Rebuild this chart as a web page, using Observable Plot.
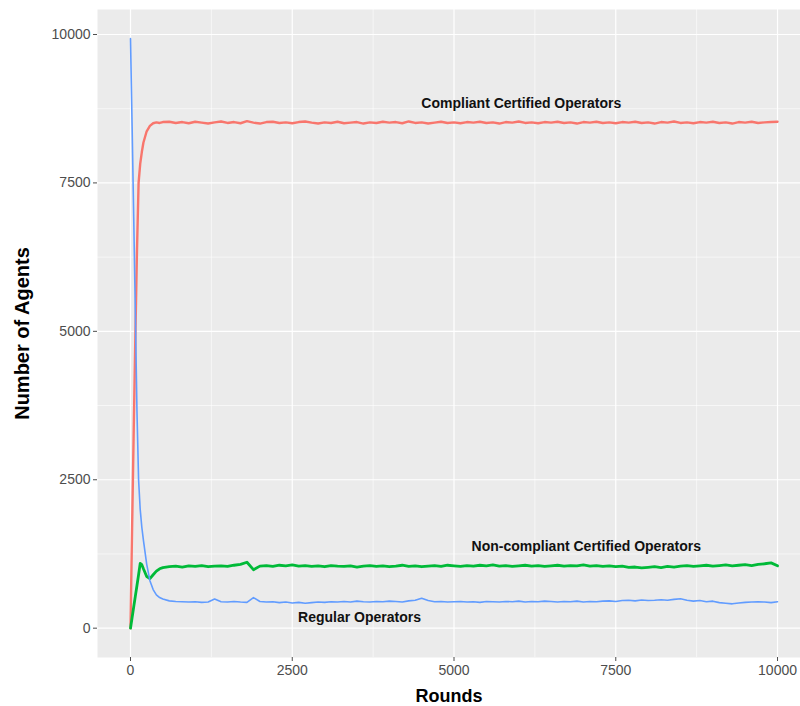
<!DOCTYPE html>
<html>
<head>
<meta charset="utf-8">
<script src="https://cdn.jsdelivr.net/npm/d3@7"></script>
<script src="https://cdn.jsdelivr.net/npm/@observablehq/plot@0.6"></script>
<style>
  html, body { margin: 0; padding: 0; background: #ffffff; }
  #chart svg { display: block; }
</style>
</head>
<body>
<div id="chart"></div>
<script>
// ---- data ----
const rounds = [
  0, 25, 50, 75, 100, 125, 150, 175, 200, 250, 300, 350, 400, 450, 500,
  600, 700, 800, 900, 1000, 1100, 1200, 1300, 1400, 1500,
  1600, 1700, 1800, 1900, 2000, 2100, 2200, 2300, 2400, 2500,
  2600, 2700, 2800, 2900, 3000, 3100, 3200, 3300, 3400, 3500,
  3600, 3700, 3800, 3900, 4000, 4100, 4200, 4300, 4400, 4500,
  4600, 4700, 4800, 4900, 5000, 5100, 5200, 5300, 5400, 5500,
  5600, 5700, 5800, 5900, 6000, 6100, 6200, 6300, 6400, 6500,
  6600, 6700, 6800, 6900, 7000, 7100, 7200, 7300, 7400, 7500,
  7600, 7700, 7800, 7900, 8000, 8100, 8200, 8300, 8400, 8500,
  8600, 8700, 8800, 8900, 9000, 9100, 9200, 9300, 9400, 9500,
  9600, 9700, 9800, 9900, 10000
];

const compliant = [
  0, 1700, 3350, 4900, 6350, 7500, 7820, 8020, 8180, 8370, 8460, 8505, 8520, 8510, 8525,
  8530, 8510, 8525, 8505, 8530, 8515, 8500, 8520, 8535, 8510,
  8525, 8505, 8540, 8515, 8500, 8525, 8530, 8510, 8520, 8505,
  8525, 8535, 8515, 8500, 8520, 8510, 8530, 8505, 8515, 8525,
  8500, 8520, 8510, 8530, 8515, 8525, 8505, 8535, 8510, 8520,
  8500, 8515, 8530, 8510, 8520, 8505, 8525, 8515, 8530, 8510,
  8520, 8500, 8525, 8515, 8535, 8510, 8520, 8505, 8525, 8515,
  8530, 8510, 8520, 8500, 8525, 8515, 8530, 8510, 8520, 8505,
  8525, 8515, 8530, 8510, 8520, 8500, 8525, 8515, 8535, 8510,
  8520, 8505, 8525, 8515, 8530, 8510, 8520, 8500, 8525, 8515,
  8530, 8510, 8520, 8525, 8530
];

const nonCompliant = [
  0, 180, 360, 540, 720, 900, 1090, 1070, 1000, 870, 835, 900, 960, 1000, 1020,
  1035, 1045, 1030, 1050, 1040, 1055, 1035, 1045, 1050, 1040,
  1060, 1075, 1110, 985, 1045, 1055, 1040, 1060, 1050, 1065,
  1045, 1055, 1040, 1050, 1035, 1055, 1045, 1040, 1050, 1030,
  1045, 1055, 1040, 1050, 1035, 1045, 1060, 1040, 1050, 1035,
  1045, 1055, 1040, 1060, 1050, 1040, 1055, 1045, 1060, 1050,
  1065, 1045, 1055, 1040, 1050, 1060, 1045, 1055, 1040, 1050,
  1060, 1045, 1055, 1050, 1065, 1045, 1055, 1040, 1050, 1035,
  1045, 1025, 1030, 1015, 1025, 1035, 1020, 1040, 1030, 1045,
  1055, 1040, 1050, 1060, 1045, 1055, 1065, 1050, 1060, 1070,
  1055, 1075, 1085, 1100, 1050
];

const regular = [
  9930, 8450, 6900, 5300, 3650, 2500, 2000, 1700, 1480, 1080, 800, 650, 560, 515, 490,
  460, 450, 445, 440, 445, 435, 440, 490, 445, 440,
  450, 440, 435, 515, 450, 440, 445, 430, 440, 425,
  435, 420, 430, 440, 435, 445, 440, 450, 440, 455,
  445, 440, 450, 445, 455, 450, 440, 460, 470, 505,
  465, 445, 450, 440, 445, 450, 440, 445, 435, 450,
  445, 440, 450, 445, 455, 440, 450, 445, 455, 450,
  440, 450, 445, 455, 440, 450, 445, 455, 460, 450,
  465, 470, 460, 475, 465, 470, 480, 470, 485, 495,
  470, 455, 465, 445, 455, 430, 420, 410, 425, 435,
  440, 445, 440, 430, 445
];

const seriesNames = ["Compliant Certified Operators", "Non-compliant Certified Operators", "Regular Operators"];
const labelRounds = [6040, 7045, 3540];
const labelValues = [8840, 1380, 180];

const xTicks = [0, 2500, 5000, 7500, 10000];
const yTicks = [0, 2500, 5000, 7500, 10000];
const xMinor = [1250, 3750, 6250, 8750];
const yMinor = [1250, 3750, 6250, 8750];

// ---- build tables ----
const toRows = (vals) => rounds.map((r, i) => ({ round: r, value: vals[i] }));
const labels = seriesNames.map((s, i) => ({ name: s, round: labelRounds[i], value: labelValues[i] }));

const chart = Plot.plot({
  width: 800,
  height: 706,
  marginLeft: 97,
  marginRight: 0,
  marginTop: 9,
  marginBottom: 49,
  style: { fontFamily: "'Liberation Sans', Arial, Helvetica, sans-serif", background: "#ffffff" },
  x: { domain: [-510, 10355] },
  y: { domain: [-494, 10421] },
  marks: [
    Plot.frame({ fill: "#EBEBEB", stroke: null }),
    Plot.gridX(xMinor, { stroke: "#ffffff", strokeOpacity: 1, strokeWidth: 0.6 }),
    Plot.gridY(yMinor, { stroke: "#ffffff", strokeOpacity: 1, strokeWidth: 0.6 }),
    Plot.gridX(xTicks, { stroke: "#ffffff", strokeOpacity: 1, strokeWidth: 1.2 }),
    Plot.gridY(yTicks, { stroke: "#ffffff", strokeOpacity: 1, strokeWidth: 1.2 }),
    Plot.line(toRows(compliant), { x: "round", y: "value", stroke: "#F8766D", strokeWidth: 2.4, strokeLinejoin: "round" }),
    Plot.line(toRows(nonCompliant), { x: "round", y: "value", stroke: "#00BA38", strokeWidth: 2.8, strokeLinejoin: "round" }),
    Plot.line(toRows(regular), { x: "round", y: "value", stroke: "#619CFF", strokeWidth: 1.6, strokeLinejoin: "round" }),
    Plot.text(labels, { x: "round", y: "value", text: "name", fontSize: 14, fontWeight: "bold", fill: "#111111" }),
    Plot.axisX(xTicks, { tickSize: 4, tickPadding: 4, fontSize: 14, tickFormat: "d", color: "#4D4D4D", label: null }),
    Plot.axisY(yTicks, { tickSize: 4, tickPadding: 3, fontSize: 14, tickFormat: "d", color: "#4D4D4D", label: null }),
    Plot.text(["Rounds"], { frameAnchor: "bottom", dy: 44, lineAnchor: "bottom", textAnchor: "middle", fontSize: 18, fontWeight: "bold", fill: "#000000" }),
    Plot.text(["Number of Agents"], { frameAnchor: "left", dx: -75, rotate: -90, textAnchor: "middle", fontSize: 20, fontWeight: "bold", fill: "#000000" })
  ]
});

document.getElementById("chart").appendChild(chart);
</script>
</body>
</html>
